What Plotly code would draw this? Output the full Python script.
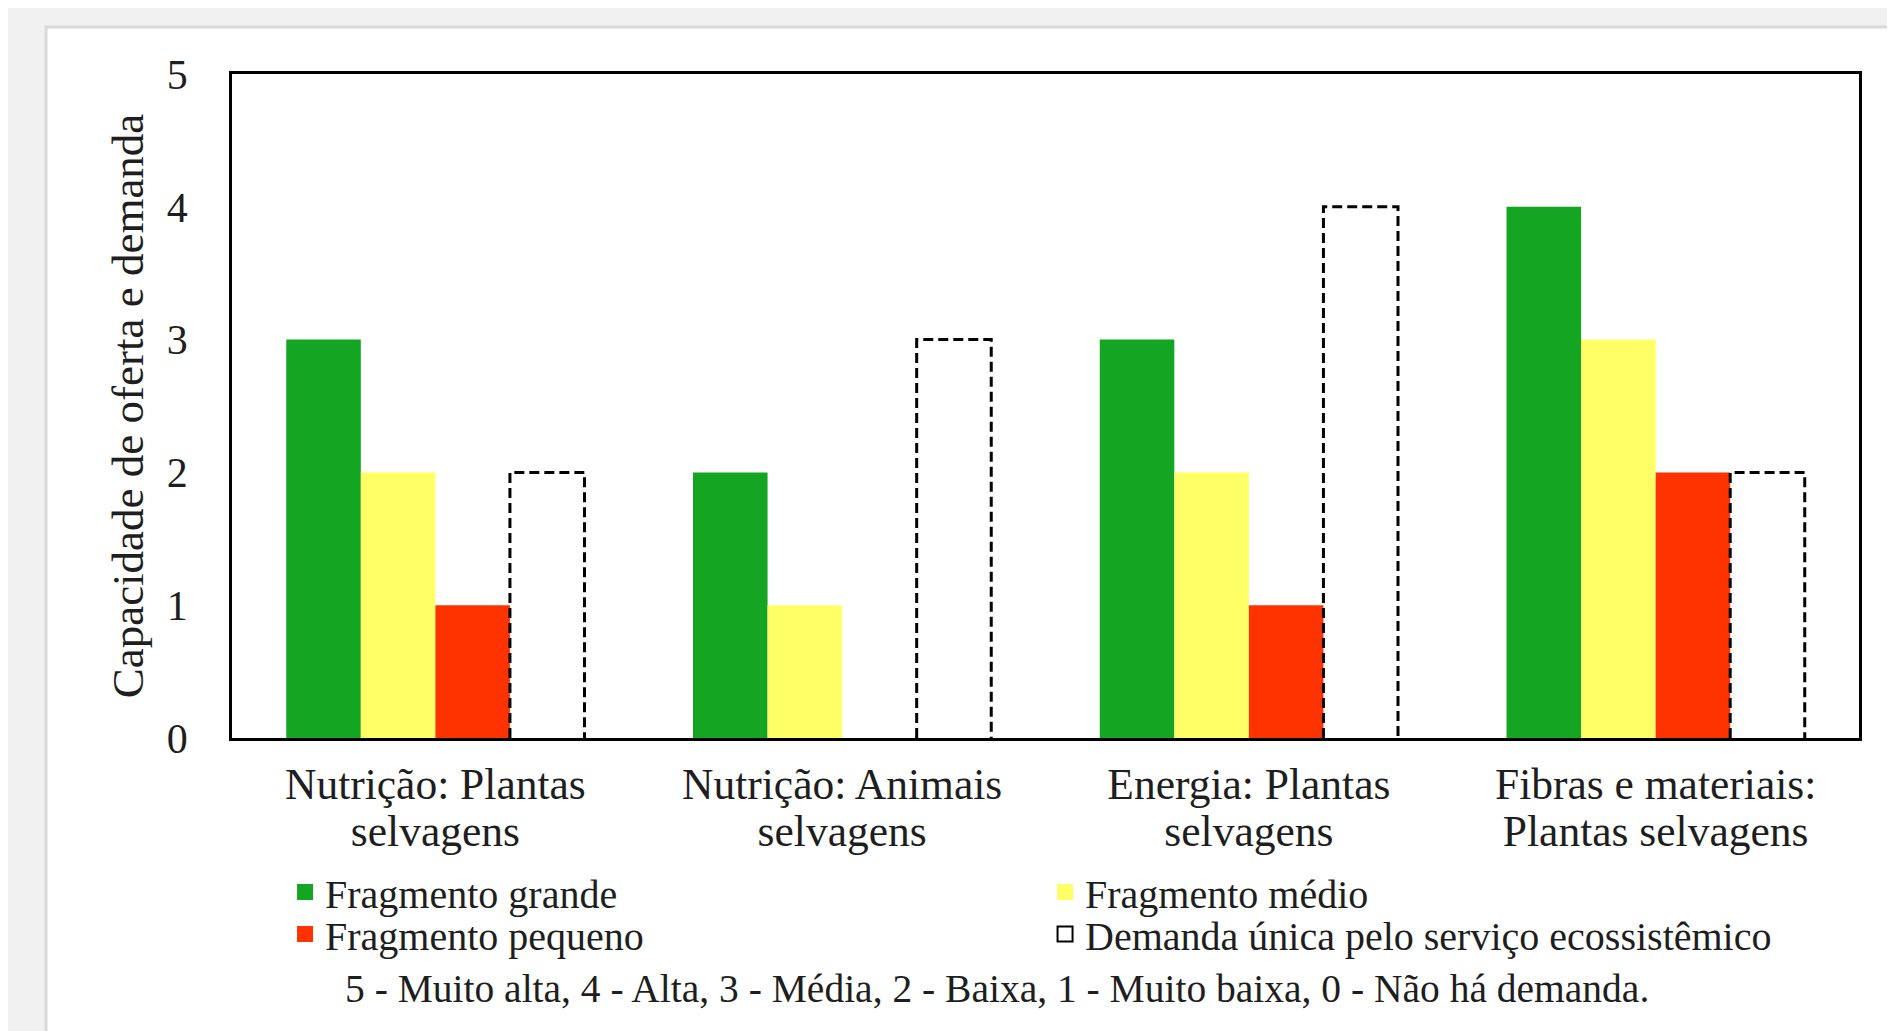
import plotly.graph_objects as go

cat_line1 = ["Nutrição: Plantas", "Nutrição: Animais", "Energia: Plantas", "Fibras e materiais:"]
cat_line2 = ["selvagens", "selvagens", "selvagens", "Plantas selvagens"]
fragmento_grande = [3, 2, 3, 4]
fragmento_medio = [2, 1, 2, 3]
fragmento_pequeno = [1, 0, 1, 2]
demanda = [2, 3, 4, 2]
y_ticks = [0, 1, 2, 3, 4, 5]
nota = "5 - Muito alta, 4 - Alta, 3 - Média, 2 - Baixa, 1 - Muito baixa, 0 - Não há demanda."

FONT = "Liberation Serif"
TXT = "#1e1e1e"
W = 0.1833
xs = list(range(len(cat_line1)))

fig = go.Figure()
series = [
    ("Fragmento grande", fragmento_grande, "#14a523", -2 * W, "legend"),
    ("Fragmento médio", fragmento_medio, "#ffff66", -1 * W, "legend"),
    ("Fragmento pequeno", fragmento_pequeno, "#ff3300", 0.0, "legend2"),
]
for name, vals, col, off, lg in series:
    fig.add_trace(go.Bar(x=xs, y=vals, name=name, width=W, offset=off, showlegend=False,
                         marker=dict(color=col, line=dict(width=0))))
    fig.add_trace(go.Scatter(x=[None], y=[None], mode="markers", name=name, legend=lg,
                             marker=dict(symbol="square", size=16, color=col)))

# dashed outlines for demand bars
ox, oy = [], []
for i, d in zip(xs, demanda):
    x0, x1 = i + W, i + 2 * W
    ox += [x0, x0, x1, x1, None]
    oy += [0, d, d, 0, None]
fig.add_trace(go.Scatter(x=ox, y=oy, mode="lines", showlegend=False, xaxis="x2",
                         line=dict(color="black", width=3, dash="10px,5px"),
                         hoverinfo="skip"))
fig.add_trace(go.Scatter(x=[None], y=[None], mode="markers", legend="legend2",
                         name="Demanda única pelo serviço ecossistêmico",
                         marker=dict(symbol="square-open", size=15, color="black",
                                     line=dict(width=2, color="black"))))

leg_common = dict(orientation="h", xref="container", yref="container",
                  x=0.1462, xanchor="left", yanchor="middle",
                  entrywidth=715, entrywidthmode="pixels",
                  font=dict(family=FONT, size=40, color=TXT),
                  bgcolor="rgba(0,0,0,0)", traceorder="normal", itemsizing="trace")

fig.update_layout(
    width=1895, height=1031,
    margin=dict(l=224, r=44, t=66, b=301, autoexpand=False),
    paper_bgcolor="#f1f1f1", plot_bgcolor="white",
    barmode="overlay",
    font=dict(family=FONT, color=TXT, size=40),
    showlegend=True,
    legend=dict(y=1 - 884 / 1031, **leg_common),
    legend2=dict(y=1 - 926 / 1031, **leg_common),
    shapes=[dict(type="rect", xref="paper", yref="paper",
                 x0=-0.1143, x1=1.2, y0=-0.6, y1=1.0708,
                 fillcolor="white", line=dict(color="#d9d9d9", width=3),
                 layer="below")],
    annotations=[dict(text=nota, xref="paper", yref="paper", x=0.470, y=-0.378,
                      xanchor="center", yanchor="middle", showarrow=False,
                      font=dict(family=FONT, size=39.5, color=TXT))],
)
fig.update_layout(
    xaxis=dict(range=[-0.5, 3.5], tickmode="array", tickvals=xs, ticktext=cat_line1,
               showline=True, linecolor="black", linewidth=2.5, mirror=True,
               showgrid=False, zeroline=False, ticks="", ticklabelstandoff=6,
               automargin=False,
               tickfont=dict(family=FONT, size=43.5, color=TXT)),
    xaxis2=dict(range=[-0.5, 3.5], overlaying="x", side="bottom", matches="x",
                tickmode="array", tickvals=xs, ticktext=cat_line2,
                showline=False, showgrid=False, zeroline=False, ticks="",
                ticklabelstandoff=63, automargin=False,
                tickfont=dict(family=FONT, size=43.5, color=TXT)),
    yaxis=dict(range=[0, 5], tickmode="array", tickvals=y_ticks,
               showline=True, linecolor="black", linewidth=2.5, mirror=True,
               showgrid=False, zeroline=False, ticks="", ticklabelstandoff=33,
               automargin=False,
               tickfont=dict(family=FONT, size=42, color=TXT),
               title=dict(text="Capacidade de oferta e demanda", standoff=10,
                          font=dict(family=FONT, size=45, color=TXT))),
)

fig.write_html("out.html")
